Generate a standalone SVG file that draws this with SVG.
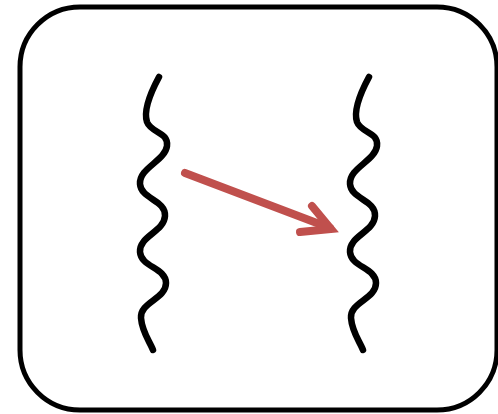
<svg xmlns="http://www.w3.org/2000/svg" width="498" height="414" viewBox="0 0 498 414">
<defs>
<style>
.wave{fill:none;stroke:#000;stroke-width:6.5;stroke-linecap:round;stroke-linejoin:round}
.arrow{fill:none;stroke:#C0504D;stroke-width:8;stroke-linecap:round;stroke-linejoin:miter}
</style>
<path id="w" d="M159,77 C152,90 143,110 147,122 C151,133 169,132 167,146 C165,161 139,168 140,184 C141,199 166,200 165,216 C164,232 139,236 140,252 C141,267 166,268 166,283 C166,299 140,302 141,318 C142,332 150,342 153,350"/>
</defs>
<rect x="20" y="7" width="477" height="403" rx="60" ry="60" fill="#fff" stroke="#000" stroke-width="5"/>
<g id="wave-left"><use href="#w" class="wave"/></g>
<g id="wave-right"><use href="#w" class="wave" transform="translate(210,0)"/></g>
<g id="connectors">
<line class="arrow" x1="185" y1="173" x2="330" y2="228"/>
<polyline class="arrow" points="312,206 331,229 300,232"/>
</g>
</svg>
